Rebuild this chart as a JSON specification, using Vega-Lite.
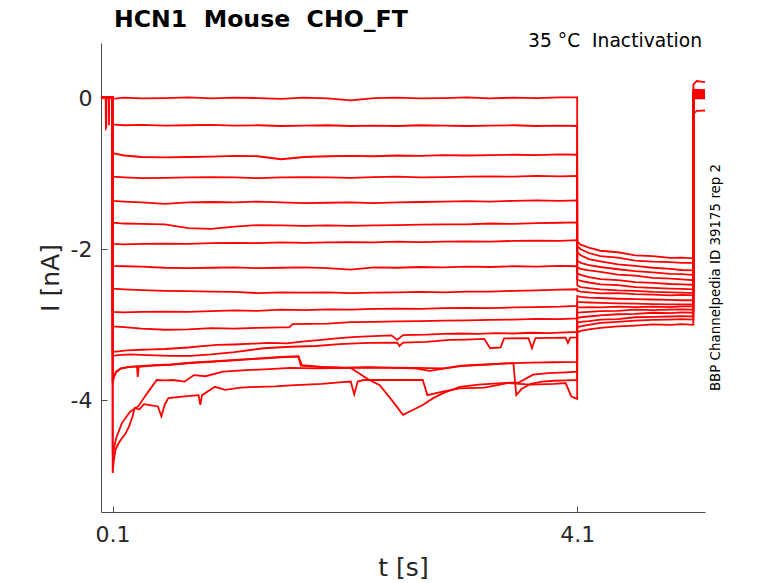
{
  "$schema": "https://vega.github.io/schema/vega-lite/v6.json",
  "width": 604,
  "height": 469,
  "autosize": {"type": "none"},
  "padding": {"left": 101, "top": 43, "right": 73, "bottom": 71},
  "background": "white",
  "config": {
    "view": {"stroke": null},
    "axis": {
      "labelFont": "DejaVu Sans", "titleFont": "DejaVu Sans",
      "labelColor": "#262626", "titleColor": "#262626",
      "domainColor": "#4d4d4d", "tickColor": "#4d4d4d",
      "grid": false, "titleFontWeight": "normal",
      "labelFontSize": 22, "titleFontSize": 25, "tickSize": -6
    }
  },
  "layer": [
    {
      "data": {"values": [
{"s":1,"t":0,"I":0.01},{"s":1,"t":0.04,"I":0.01},{"s":1,"t":0.042,"I":-0.40},{"s":1,"t":0.046,"I":-0.39},{"s":1,"t":0.048,"I":0.01},{"s":1,"t":0.068,"I":0.01},{"s":1,"t":0.069,"I":-0.36},{"s":1,"t":0.071,"I":0.01},{"s":1,"t":0.1,"I":0.01},
{"s":1,"t":0.1005,"I":-0.01},{"s":1,"t":0.2,"I":0.005},{"s":1,"t":0.35,"I":-0.005},{"s":1,"t":0.55,"I":0.0},{"s":1,"t":0.75,"I":0.01},{"s":1,"t":0.95,"I":-0.005},{"s":1,"t":1.15,"I":0.005},{"s":1,"t":1.35,"I":0.0},{"s":1,"t":1.55,"I":-0.01},{"s":1,"t":1.75,"I":0.005},{"s":1,"t":1.95,"I":-0.005},{"s":1,"t":2.15,"I":-0.03},{"s":1,"t":2.35,"I":0.0},{"s":1,"t":2.55,"I":0.005},{"s":1,"t":2.75,"I":-0.005},{"s":1,"t":2.95,"I":0.0},{"s":1,"t":3.15,"I":0.01},{"s":1,"t":3.35,"I":-0.005},{"s":1,"t":3.55,"I":0.005},{"s":1,"t":3.75,"I":0.0},{"s":1,"t":3.95,"I":0.01},{"s":1,"t":4.0995,"I":0.01},
{"s":1,"t":4.1,"I":-1.90},{"s":1,"t":4.13,"I":-1.94},{"s":1,"t":4.2,"I":-1.98},{"s":1,"t":4.3,"I":-2.02},{"s":1,"t":4.45,"I":-2.04},{"s":1,"t":4.6,"I":-2.08},{"s":1,"t":4.75,"I":-2.09},{"s":1,"t":4.9,"I":-2.115},{"s":1,"t":5.0,"I":-2.11},{"s":1,"t":5.0995,"I":-2.12},
{"s":1,"t":5.1,"I":0.18},{"s":1,"t":5.13,"I":0.225},{"s":1,"t":5.2,"I":0.21},

{"s":2,"t":0,"I":0.01},{"s":2,"t":0.1,"I":0.01},
{"s":2,"t":0.1005,"I":-0.35},{"s":2,"t":0.2,"I":-0.36},{"s":2,"t":0.35,"I":-0.355},{"s":2,"t":0.55,"I":-0.365},{"s":2,"t":0.75,"I":-0.36},{"s":2,"t":0.95,"I":-0.355},{"s":2,"t":1.15,"I":-0.365},{"s":2,"t":1.35,"I":-0.36},{"s":2,"t":1.55,"I":-0.37},{"s":2,"t":1.75,"I":-0.365},{"s":2,"t":1.95,"I":-0.36},{"s":2,"t":2.15,"I":-0.37},{"s":2,"t":2.35,"I":-0.365},{"s":2,"t":2.55,"I":-0.37},{"s":2,"t":2.75,"I":-0.36},{"s":2,"t":2.95,"I":-0.365},{"s":2,"t":3.15,"I":-0.37},{"s":2,"t":3.35,"I":-0.365},{"s":2,"t":3.55,"I":-0.36},{"s":2,"t":3.75,"I":-0.37},{"s":2,"t":3.95,"I":-0.365},{"s":2,"t":4.0995,"I":-0.37},
{"s":2,"t":4.1,"I":-1.96},{"s":2,"t":4.13,"I":-2.0},{"s":2,"t":4.2,"I":-2.05},{"s":2,"t":4.3,"I":-2.09},{"s":2,"t":4.45,"I":-2.11},{"s":2,"t":4.6,"I":-2.15},{"s":2,"t":4.75,"I":-2.165},{"s":2,"t":4.9,"I":-2.17},{"s":2,"t":5.0,"I":-2.18},{"s":2,"t":5.0995,"I":-2.18},
{"s":2,"t":5.1,"I":0.11},{"s":2,"t":5.2,"I":0.105},

{"s":3,"t":0,"I":0.01},{"s":3,"t":0.1,"I":0.01},
{"s":3,"t":0.1005,"I":-0.73},{"s":3,"t":0.2,"I":-0.76},{"s":3,"t":0.35,"I":-0.78},{"s":3,"t":0.55,"I":-0.785},{"s":3,"t":0.75,"I":-0.78},{"s":3,"t":0.95,"I":-0.775},{"s":3,"t":1.15,"I":-0.765},{"s":3,"t":1.35,"I":-0.77},{"s":3,"t":1.55,"I":-0.81},{"s":3,"t":1.75,"I":-0.78},{"s":3,"t":1.95,"I":-0.77},{"s":3,"t":2.15,"I":-0.765},{"s":3,"t":2.35,"I":-0.77},{"s":3,"t":2.55,"I":-0.76},{"s":3,"t":2.75,"I":-0.765},{"s":3,"t":2.95,"I":-0.755},{"s":3,"t":3.15,"I":-0.76},{"s":3,"t":3.35,"I":-0.755},{"s":3,"t":3.55,"I":-0.75},{"s":3,"t":3.75,"I":-0.755},{"s":3,"t":3.95,"I":-0.745},{"s":3,"t":4.0995,"I":-0.75},
{"s":3,"t":4.1,"I":-2.04},{"s":3,"t":4.13,"I":-2.08},{"s":3,"t":4.2,"I":-2.13},{"s":3,"t":4.3,"I":-2.16},{"s":3,"t":4.45,"I":-2.2},{"s":3,"t":4.6,"I":-2.22},{"s":3,"t":4.75,"I":-2.245},{"s":3,"t":4.9,"I":-2.26},{"s":3,"t":5.0,"I":-2.275},{"s":3,"t":5.0995,"I":-2.28},
{"s":3,"t":5.1,"I":0.10},{"s":3,"t":5.2,"I":0.095},

{"s":4,"t":0,"I":0.01},{"s":4,"t":0.1,"I":0.01},
{"s":4,"t":0.1005,"I":-1.04},{"s":4,"t":0.2,"I":-1.05},{"s":4,"t":0.35,"I":-1.06},{"s":4,"t":0.55,"I":-1.055},{"s":4,"t":0.75,"I":-1.05},{"s":4,"t":0.95,"I":-1.045},{"s":4,"t":1.15,"I":-1.05},{"s":4,"t":1.35,"I":-1.06},{"s":4,"t":1.55,"I":-1.05},{"s":4,"t":1.75,"I":-1.045},{"s":4,"t":1.95,"I":-1.05},{"s":4,"t":2.15,"I":-1.055},{"s":4,"t":2.35,"I":-1.045},{"s":4,"t":2.55,"I":-1.04},{"s":4,"t":2.75,"I":-1.05},{"s":4,"t":2.95,"I":-1.045},{"s":4,"t":3.15,"I":-1.04},{"s":4,"t":3.35,"I":-1.035},{"s":4,"t":3.55,"I":-1.04},{"s":4,"t":3.75,"I":-1.03},{"s":4,"t":3.95,"I":-1.035},{"s":4,"t":4.0995,"I":-1.03},
{"s":4,"t":4.1,"I":-2.15},{"s":4,"t":4.13,"I":-2.18},{"s":4,"t":4.2,"I":-2.21},{"s":4,"t":4.3,"I":-2.235},{"s":4,"t":4.45,"I":-2.265},{"s":4,"t":4.6,"I":-2.29},{"s":4,"t":4.75,"I":-2.305},{"s":4,"t":4.9,"I":-2.325},{"s":4,"t":5.0,"I":-2.33},{"s":4,"t":5.0995,"I":-2.34},
{"s":4,"t":5.1,"I":0.09},{"s":4,"t":5.2,"I":0.085},

{"s":5,"t":0,"I":0.01},{"s":5,"t":0.1,"I":0.01},
{"s":5,"t":0.1005,"I":-1.36},{"s":5,"t":0.2,"I":-1.37},{"s":5,"t":0.35,"I":-1.38},{"s":5,"t":0.55,"I":-1.40},{"s":5,"t":0.75,"I":-1.38},{"s":5,"t":0.95,"I":-1.375},{"s":5,"t":1.15,"I":-1.38},{"s":5,"t":1.35,"I":-1.37},{"s":5,"t":1.55,"I":-1.38},{"s":5,"t":1.75,"I":-1.39},{"s":5,"t":1.95,"I":-1.385},{"s":5,"t":2.15,"I":-1.38},{"s":5,"t":2.35,"I":-1.39},{"s":5,"t":2.55,"I":-1.38},{"s":5,"t":2.75,"I":-1.375},{"s":5,"t":2.95,"I":-1.37},{"s":5,"t":3.15,"I":-1.365},{"s":5,"t":3.35,"I":-1.37},{"s":5,"t":3.55,"I":-1.36},{"s":5,"t":3.75,"I":-1.355},{"s":5,"t":3.95,"I":-1.36},{"s":5,"t":4.0995,"I":-1.355},
{"s":5,"t":4.1,"I":-2.24},{"s":5,"t":4.13,"I":-2.26},{"s":5,"t":4.2,"I":-2.28},{"s":5,"t":4.3,"I":-2.30},{"s":5,"t":4.45,"I":-2.335},{"s":5,"t":4.6,"I":-2.35},{"s":5,"t":4.75,"I":-2.38},{"s":5,"t":4.9,"I":-2.39},{"s":5,"t":5.0,"I":-2.40},{"s":5,"t":5.0995,"I":-2.41},
{"s":5,"t":5.1,"I":0.08},{"s":5,"t":5.2,"I":0.075},

{"s":6,"t":0,"I":0.01},{"s":6,"t":0.1,"I":0.01},
{"s":6,"t":0.1005,"I":-1.65},{"s":6,"t":0.2,"I":-1.66},{"s":6,"t":0.35,"I":-1.665},{"s":6,"t":0.55,"I":-1.67},{"s":6,"t":0.75,"I":-1.72},{"s":6,"t":0.95,"I":-1.73},{"s":6,"t":1.15,"I":-1.70},{"s":6,"t":1.35,"I":-1.68},{"s":6,"t":1.55,"I":-1.685},{"s":6,"t":1.75,"I":-1.69},{"s":6,"t":1.95,"I":-1.685},{"s":6,"t":2.15,"I":-1.69},{"s":6,"t":2.35,"I":-1.685},{"s":6,"t":2.55,"I":-1.68},{"s":6,"t":2.75,"I":-1.675},{"s":6,"t":2.95,"I":-1.67},{"s":6,"t":3.15,"I":-1.67},{"s":6,"t":3.35,"I":-1.66},{"s":6,"t":3.55,"I":-1.665},{"s":6,"t":3.75,"I":-1.655},{"s":6,"t":3.95,"I":-1.65},{"s":6,"t":4.0995,"I":-1.645},
{"s":6,"t":4.1,"I":-2.32},{"s":6,"t":4.13,"I":-2.34},{"s":6,"t":4.2,"I":-2.37},{"s":6,"t":4.3,"I":-2.395},{"s":6,"t":4.45,"I":-2.41},{"s":6,"t":4.6,"I":-2.435},{"s":6,"t":4.75,"I":-2.445},{"s":6,"t":4.9,"I":-2.46},{"s":6,"t":5.0,"I":-2.465},{"s":6,"t":5.0995,"I":-2.47},
{"s":6,"t":5.1,"I":0.07},{"s":6,"t":5.2,"I":0.065},

{"s":7,"t":0,"I":0.01},{"s":7,"t":0.1,"I":0.01},
{"s":7,"t":0.1005,"I":-1.93},{"s":7,"t":0.2,"I":-1.935},{"s":7,"t":0.35,"I":-1.93},{"s":7,"t":0.55,"I":-1.925},{"s":7,"t":0.75,"I":-1.93},{"s":7,"t":0.95,"I":-1.92},{"s":7,"t":1.15,"I":-1.915},{"s":7,"t":1.35,"I":-1.92},{"s":7,"t":1.55,"I":-1.91},{"s":7,"t":1.75,"I":-1.915},{"s":7,"t":1.95,"I":-1.91},{"s":7,"t":2.15,"I":-1.905},{"s":7,"t":2.35,"I":-1.91},{"s":7,"t":2.55,"I":-1.90},{"s":7,"t":2.75,"I":-1.905},{"s":7,"t":2.95,"I":-1.90},{"s":7,"t":3.15,"I":-1.895},{"s":7,"t":3.35,"I":-1.90},{"s":7,"t":3.55,"I":-1.89},{"s":7,"t":3.75,"I":-1.885},{"s":7,"t":3.95,"I":-1.89},{"s":7,"t":4.0995,"I":-1.88},
{"s":7,"t":4.1,"I":-2.40},{"s":7,"t":4.13,"I":-2.42},{"s":7,"t":4.2,"I":-2.44},{"s":7,"t":4.3,"I":-2.465},{"s":7,"t":4.45,"I":-2.475},{"s":7,"t":4.6,"I":-2.50},{"s":7,"t":4.75,"I":-2.51},{"s":7,"t":4.9,"I":-2.52},{"s":7,"t":5.0,"I":-2.525},{"s":7,"t":5.0995,"I":-2.53},
{"s":7,"t":5.1,"I":0.06},{"s":7,"t":5.2,"I":0.055},

{"s":8,"t":0,"I":0.01},{"s":8,"t":0.1,"I":0.01},
{"s":8,"t":0.1005,"I":-2.22},{"s":8,"t":0.2,"I":-2.225},{"s":8,"t":0.35,"I":-2.23},{"s":8,"t":0.55,"I":-2.245},{"s":8,"t":0.75,"I":-2.25},{"s":8,"t":0.95,"I":-2.245},{"s":8,"t":1.15,"I":-2.24},{"s":8,"t":1.35,"I":-2.25},{"s":8,"t":1.55,"I":-2.245},{"s":8,"t":1.75,"I":-2.24},{"s":8,"t":1.95,"I":-2.25},{"s":8,"t":2.15,"I":-2.27},{"s":8,"t":2.35,"I":-2.24},{"s":8,"t":2.55,"I":-2.245},{"s":8,"t":2.75,"I":-2.235},{"s":8,"t":2.95,"I":-2.24},{"s":8,"t":3.15,"I":-2.23},{"s":8,"t":3.35,"I":-2.235},{"s":8,"t":3.55,"I":-2.225},{"s":8,"t":3.75,"I":-2.23},{"s":8,"t":3.95,"I":-2.22},{"s":8,"t":4.0995,"I":-2.225},
{"s":8,"t":4.1,"I":-2.48},{"s":8,"t":4.13,"I":-2.50},{"s":8,"t":4.2,"I":-2.515},{"s":8,"t":4.3,"I":-2.53},{"s":8,"t":4.45,"I":-2.545},{"s":8,"t":4.6,"I":-2.55},{"s":8,"t":4.75,"I":-2.565},{"s":8,"t":4.9,"I":-2.57},{"s":8,"t":5.0,"I":-2.575},{"s":8,"t":5.0995,"I":-2.58},
{"s":8,"t":5.1,"I":0.06},{"s":8,"t":5.2,"I":0.05},

{"s":9,"t":0,"I":0.01},{"s":9,"t":0.1,"I":0.01},
{"s":9,"t":0.1005,"I":-2.52},{"s":9,"t":0.2,"I":-2.53},{"s":9,"t":0.35,"I":-2.54},{"s":9,"t":0.55,"I":-2.55},{"s":9,"t":0.75,"I":-2.555},{"s":9,"t":0.95,"I":-2.56},{"s":9,"t":1.15,"I":-2.565},{"s":9,"t":1.35,"I":-2.58},{"s":9,"t":1.55,"I":-2.57},{"s":9,"t":1.75,"I":-2.575},{"s":9,"t":1.95,"I":-2.57},{"s":9,"t":2.15,"I":-2.58},{"s":9,"t":2.35,"I":-2.575},{"s":9,"t":2.55,"I":-2.57},{"s":9,"t":2.75,"I":-2.565},{"s":9,"t":2.95,"I":-2.57},{"s":9,"t":3.15,"I":-2.56},{"s":9,"t":3.35,"I":-2.56},{"s":9,"t":3.55,"I":-2.55},{"s":9,"t":3.75,"I":-2.545},{"s":9,"t":3.95,"I":-2.535},{"s":9,"t":4.0995,"I":-2.53},
{"s":9,"t":4.1,"I":-2.55},{"s":9,"t":4.13,"I":-2.56},{"s":9,"t":4.2,"I":-2.57},{"s":9,"t":4.3,"I":-2.585},{"s":9,"t":4.45,"I":-2.58},{"s":9,"t":4.6,"I":-2.595},{"s":9,"t":4.75,"I":-2.60},{"s":9,"t":4.9,"I":-2.61},{"s":9,"t":5.0,"I":-2.605},{"s":9,"t":5.0995,"I":-2.61},
{"s":9,"t":5.1,"I":0.05},{"s":9,"t":5.2,"I":0.045},

{"s":10,"t":0,"I":0.01},{"s":10,"t":0.1,"I":0.01},
{"s":10,"t":0.1005,"I":-2.83},{"s":10,"t":0.2,"I":-2.835},{"s":10,"t":0.35,"I":-2.83},{"s":10,"t":0.55,"I":-2.825},{"s":10,"t":0.75,"I":-2.83},{"s":10,"t":0.95,"I":-2.82},{"s":10,"t":1.15,"I":-2.81},{"s":10,"t":1.35,"I":-2.815},{"s":10,"t":1.55,"I":-2.80},{"s":10,"t":1.75,"I":-2.805},{"s":10,"t":1.95,"I":-2.795},{"s":10,"t":2.15,"I":-2.80},{"s":10,"t":2.35,"I":-2.79},{"s":10,"t":2.55,"I":-2.785},{"s":10,"t":2.75,"I":-2.79},{"s":10,"t":2.95,"I":-2.78},{"s":10,"t":3.15,"I":-2.775},{"s":10,"t":3.35,"I":-2.78},{"s":10,"t":3.55,"I":-2.77},{"s":10,"t":3.75,"I":-2.765},{"s":10,"t":3.95,"I":-2.76},{"s":10,"t":4.0995,"I":-2.75},
{"s":10,"t":4.1,"I":-2.62},{"s":10,"t":4.13,"I":-2.63},{"s":10,"t":4.2,"I":-2.64},{"s":10,"t":4.3,"I":-2.645},{"s":10,"t":4.45,"I":-2.655},{"s":10,"t":4.6,"I":-2.66},{"s":10,"t":4.75,"I":-2.665},{"s":10,"t":4.9,"I":-2.67},{"s":10,"t":5.0,"I":-2.675},{"s":10,"t":5.0995,"I":-2.675},
{"s":10,"t":5.1,"I":0.04},{"s":10,"t":5.2,"I":0.035},

{"s":11,"t":0,"I":0.01},{"s":11,"t":0.1,"I":0.01},
{"s":11,"t":0.1005,"I":-3.02},{"s":11,"t":0.2,"I":-3.03},{"s":11,"t":0.35,"I":-3.05},{"s":11,"t":0.55,"I":-3.065},{"s":11,"t":0.75,"I":-3.06},{"s":11,"t":0.95,"I":-3.045},{"s":11,"t":1.15,"I":-3.05},{"s":11,"t":1.35,"I":-3.04},{"s":11,"t":1.55,"I":-3.035},{"s":11,"t":1.62,"I":-3.035},{"s":11,"t":1.65,"I":-2.99},{"s":11,"t":1.95,"I":-2.985},{"s":11,"t":2.15,"I":-2.965},{"s":11,"t":2.35,"I":-2.96},{"s":11,"t":2.55,"I":-2.955},{"s":11,"t":2.75,"I":-2.95},{"s":11,"t":2.95,"I":-2.945},{"s":11,"t":3.15,"I":-2.94},{"s":11,"t":3.35,"I":-2.935},{"s":11,"t":3.55,"I":-2.93},{"s":11,"t":3.75,"I":-2.92},{"s":11,"t":3.95,"I":-2.925},{"s":11,"t":4.0995,"I":-2.915},
{"s":11,"t":4.1,"I":-2.70},{"s":11,"t":4.13,"I":-2.70},{"s":11,"t":4.2,"I":-2.705},{"s":11,"t":4.3,"I":-2.71},{"s":11,"t":4.45,"I":-2.715},{"s":11,"t":4.6,"I":-2.72},{"s":11,"t":4.75,"I":-2.725},{"s":11,"t":4.9,"I":-2.73},{"s":11,"t":5.0,"I":-2.73},{"s":11,"t":5.0995,"I":-2.73},
{"s":11,"t":5.1,"I":0.04},{"s":11,"t":5.2,"I":0.03},

{"s":12,"t":0,"I":0.01},{"s":12,"t":0.1,"I":0.01},
{"s":12,"t":0.1005,"I":-3.36},{"s":12,"t":0.12,"I":-3.355},{"s":12,"t":0.15,"I":-3.35},{"s":12,"t":0.2,"I":-3.34},{"s":12,"t":0.27,"I":-3.335},{"s":12,"t":0.35,"I":-3.33},{"s":12,"t":0.45,"I":-3.325},{"s":12,"t":0.55,"I":-3.32},{"s":12,"t":0.65,"I":-3.31},{"s":12,"t":0.75,"I":-3.30},{"s":12,"t":0.85,"I":-3.285},{"s":12,"t":1.0,"I":-3.265},{"s":12,"t":1.15,"I":-3.26},{"s":12,"t":1.3,"I":-3.25},{"s":12,"t":1.45,"I":-3.24},{"s":12,"t":1.6,"I":-3.245},{"s":12,"t":1.75,"I":-3.22},{"s":12,"t":1.9,"I":-3.2},{"s":12,"t":2.05,"I":-3.175},{"s":12,"t":2.2,"I":-3.16},{"s":12,"t":2.35,"I":-3.15},{"s":12,"t":2.5,"I":-3.14},{"s":12,"t":2.55,"I":-3.2},{"s":12,"t":2.6,"I":-3.135},{"s":12,"t":2.8,"I":-3.13},{"s":12,"t":2.95,"I":-3.12},{"s":12,"t":3.1,"I":-3.115},{"s":12,"t":3.25,"I":-3.12},{"s":12,"t":3.4,"I":-3.11},{"s":12,"t":3.55,"I":-3.115},{"s":12,"t":3.7,"I":-3.105},{"s":12,"t":3.85,"I":-3.11},{"s":12,"t":4.0,"I":-3.10},{"s":12,"t":4.0995,"I":-3.095},
{"s":12,"t":4.1,"I":-2.77},{"s":12,"t":4.13,"I":-2.77},{"s":12,"t":4.2,"I":-2.765},{"s":12,"t":4.3,"I":-2.77},{"s":12,"t":4.45,"I":-2.76},{"s":12,"t":4.6,"I":-2.765},{"s":12,"t":4.75,"I":-2.76},{"s":12,"t":4.9,"I":-2.765},{"s":12,"t":5.0,"I":-2.755},{"s":12,"t":5.0995,"I":-2.755},
{"s":12,"t":5.1,"I":0.03},{"s":12,"t":5.2,"I":0.025},

{"s":13,"t":0,"I":0.01},{"s":13,"t":0.1,"I":0.01},
{"s":13,"t":0.1005,"I":-3.41},{"s":13,"t":0.15,"I":-3.40},{"s":13,"t":0.25,"I":-3.39},{"s":13,"t":0.4,"I":-3.40},{"s":13,"t":0.6,"I":-3.41},{"s":13,"t":0.77,"I":-3.41},{"s":13,"t":0.95,"I":-3.39},{"s":13,"t":1.15,"I":-3.36},{"s":13,"t":1.4,"I":-3.31},{"s":13,"t":1.63,"I":-3.29},{"s":13,"t":1.85,"I":-3.28},{"s":13,"t":2.05,"I":-3.255},{"s":13,"t":2.3,"I":-3.24},{"s":13,"t":2.55,"I":-3.235},{"s":13,"t":2.57,"I":-3.28},{"s":13,"t":2.6,"I":-3.235},{"s":13,"t":2.8,"I":-3.225},{"s":13,"t":3.0,"I":-3.2},{"s":13,"t":3.15,"I":-3.195},{"s":13,"t":3.3,"I":-3.185},{"s":13,"t":3.35,"I":-3.31},{"s":13,"t":3.44,"I":-3.30},{"s":13,"t":3.47,"I":-3.18},{"s":13,"t":3.68,"I":-3.175},{"s":13,"t":3.71,"I":-3.31},{"s":13,"t":3.74,"I":-3.175},{"s":13,"t":4.0,"I":-3.17},{"s":13,"t":4.02,"I":-3.24},{"s":13,"t":4.04,"I":-3.17},{"s":13,"t":4.0995,"I":-3.165},
{"s":13,"t":4.1,"I":-2.84},{"s":13,"t":4.13,"I":-2.835},{"s":13,"t":4.2,"I":-2.83},{"s":13,"t":4.3,"I":-2.82},{"s":13,"t":4.45,"I":-2.815},{"s":13,"t":4.6,"I":-2.80},{"s":13,"t":4.75,"I":-2.805},{"s":13,"t":4.9,"I":-2.80},{"s":13,"t":5.0,"I":-2.795},{"s":13,"t":5.0995,"I":-2.80},
{"s":13,"t":5.1,"I":0.02},{"s":13,"t":5.2,"I":0.015},

{"s":14,"t":0,"I":0.01},{"s":14,"t":0.1,"I":0.01},
{"s":14,"t":0.1005,"I":-3.77},{"s":14,"t":0.11,"I":-3.70},{"s":14,"t":0.13,"I":-3.63},{"s":14,"t":0.17,"I":-3.58},{"s":14,"t":0.24,"I":-3.56},{"s":14,"t":0.31,"I":-3.55},{"s":14,"t":0.316,"I":-3.69},{"s":14,"t":0.325,"I":-3.555},{"s":14,"t":0.45,"I":-3.54},{"s":14,"t":0.6,"I":-3.53},{"s":14,"t":0.77,"I":-3.505},{"s":14,"t":0.95,"I":-3.49},{"s":14,"t":1.15,"I":-3.47},{"s":14,"t":1.35,"I":-3.45},{"s":14,"t":1.55,"I":-3.43},{"s":14,"t":1.7,"I":-3.42},{"s":14,"t":1.72,"I":-3.54},{"s":14,"t":1.9,"I":-3.56},{"s":14,"t":2.1,"I":-3.57},{"s":14,"t":2.3,"I":-3.565},{"s":14,"t":2.5,"I":-3.57},{"s":14,"t":2.7,"I":-3.575},{"s":14,"t":2.83,"I":-3.61},{"s":14,"t":2.95,"I":-3.58},{"s":14,"t":3.1,"I":-3.545},{"s":14,"t":3.3,"I":-3.53},{"s":14,"t":3.5,"I":-3.51},{"s":14,"t":3.7,"I":-3.50},{"s":14,"t":3.9,"I":-3.495},{"s":14,"t":4.0995,"I":-3.49},
{"s":14,"t":4.1,"I":-2.91},{"s":14,"t":4.13,"I":-2.90},{"s":14,"t":4.2,"I":-2.89},{"s":14,"t":4.3,"I":-2.875},{"s":14,"t":4.45,"I":-2.86},{"s":14,"t":4.6,"I":-2.855},{"s":14,"t":4.75,"I":-2.84},{"s":14,"t":4.9,"I":-2.845},{"s":14,"t":5.0,"I":-2.835},{"s":14,"t":5.0995,"I":-2.84},
{"s":14,"t":5.1,"I":0.02},{"s":14,"t":5.2,"I":0.01},

{"s":15,"t":0,"I":0.01},{"s":15,"t":0.1,"I":0.01},
{"s":15,"t":0.1005,"I":-4.72},{"s":15,"t":0.13,"I":-4.50},{"s":15,"t":0.18,"I":-4.30},{"s":15,"t":0.25,"I":-4.15},{"s":15,"t":0.32,"I":-4.08},{"s":15,"t":0.4,"I":-3.90},{"s":15,"t":0.48,"I":-3.73},{"s":15,"t":0.55,"I":-3.735},{"s":15,"t":0.62,"I":-3.73},{"s":15,"t":0.72,"I":-3.75},{"s":15,"t":0.8,"I":-3.665},{"s":15,"t":0.9,"I":-3.68},{"s":15,"t":1.05,"I":-3.62},{"s":15,"t":1.25,"I":-3.60},{"s":15,"t":1.45,"I":-3.585},{"s":15,"t":1.63,"I":-3.57},{"s":15,"t":1.85,"I":-3.575},{"s":15,"t":2.15,"I":-3.57},{"s":15,"t":2.2,"I":-3.62},{"s":15,"t":2.3,"I":-3.72},{"s":15,"t":2.4,"I":-3.80},{"s":15,"t":2.5,"I":-3.99},{"s":15,"t":2.6,"I":-4.19},{"s":15,"t":2.68,"I":-4.13},{"s":15,"t":2.77,"I":-4.06},{"s":15,"t":2.86,"I":-3.97},{"s":15,"t":2.95,"I":-3.90},{"s":15,"t":3.09,"I":-3.82},{"s":15,"t":3.25,"I":-3.79},{"s":15,"t":3.45,"I":-3.77},{"s":15,"t":3.6,"I":-3.76},{"s":15,"t":3.72,"I":-3.66},{"s":15,"t":3.85,"I":-3.64},{"s":15,"t":4.0,"I":-3.63},{"s":15,"t":4.0995,"I":-3.62},
{"s":15,"t":4.1,"I":-2.97},{"s":15,"t":4.13,"I":-2.96},{"s":15,"t":4.2,"I":-2.95},{"s":15,"t":4.3,"I":-2.93},{"s":15,"t":4.45,"I":-2.925},{"s":15,"t":4.6,"I":-2.90},{"s":15,"t":4.75,"I":-2.895},{"s":15,"t":4.9,"I":-2.89},{"s":15,"t":5.0,"I":-2.885},{"s":15,"t":5.0995,"I":-2.89},
{"s":15,"t":5.1,"I":0.01},{"s":15,"t":5.2,"I":0.005},

{"s":16,"t":0,"I":0.01},{"s":16,"t":0.1,"I":0.01},
{"s":16,"t":0.1005,"I":-4.96},{"s":16,"t":0.11,"I":-4.80},{"s":16,"t":0.125,"I":-4.65},{"s":16,"t":0.15,"I":-4.57},{"s":16,"t":0.18,"I":-4.50},{"s":16,"t":0.21,"I":-4.44},{"s":16,"t":0.24,"I":-4.35},{"s":16,"t":0.27,"I":-4.22},{"s":16,"t":0.29,"I":-4.10},{"s":16,"t":0.33,"I":-4.12},{"s":16,"t":0.37,"I":-4.05},{"s":16,"t":0.41,"I":-4.06},{"s":16,"t":0.49,"I":-4.08},{"s":16,"t":0.52,"I":-4.21},{"s":16,"t":0.55,"I":-4.05},{"s":16,"t":0.58,"I":-3.97},{"s":16,"t":0.7,"I":-3.95},{"s":16,"t":0.84,"I":-3.93},{"s":16,"t":0.855,"I":-4.06},{"s":16,"t":0.87,"I":-3.93},{"s":16,"t":0.98,"I":-3.82},{"s":16,"t":1.07,"I":-3.86},{"s":16,"t":1.2,"I":-3.83},{"s":16,"t":1.35,"I":-3.82},{"s":16,"t":1.5,"I":-3.815},{"s":16,"t":1.63,"I":-3.80},{"s":16,"t":1.9,"I":-3.78},{"s":16,"t":2.05,"I":-3.76},{"s":16,"t":2.15,"I":-3.75},{"s":16,"t":2.18,"I":-3.92},{"s":16,"t":2.21,"I":-3.75},{"s":16,"t":2.26,"I":-3.73},{"s":16,"t":2.5,"I":-3.73},{"s":16,"t":2.77,"I":-3.73},{"s":16,"t":2.81,"I":-3.93},{"s":16,"t":2.95,"I":-3.88},{"s":16,"t":3.09,"I":-3.84},{"s":16,"t":3.3,"I":-3.83},{"s":16,"t":3.5,"I":-3.77},{"s":16,"t":3.7,"I":-3.79},{"s":16,"t":3.9,"I":-3.78},{"s":16,"t":4.0,"I":-3.77},{"s":16,"t":4.05,"I":-3.95},{"s":16,"t":4.0995,"I":-3.98},
{"s":16,"t":4.1,"I":-3.10},{"s":16,"t":4.13,"I":-3.08},{"s":16,"t":4.2,"I":-3.06},{"s":16,"t":4.3,"I":-3.04},{"s":16,"t":4.45,"I":-3.02},{"s":16,"t":4.6,"I":-3.01},{"s":16,"t":4.75,"I":-2.995},{"s":16,"t":4.9,"I":-3.0},{"s":16,"t":5.0,"I":-2.99},{"s":16,"t":5.0995,"I":-3.0},
{"s":16,"t":5.1,"I":0.0},{"s":16,"t":5.2,"I":-0.005},

{"s":17,"t":0,"I":0.01},{"s":17,"t":0.1,"I":0.01},
{"s":17,"t":0.1005,"I":-3.76},{"s":17,"t":0.11,"I":-3.69},{"s":17,"t":0.13,"I":-3.62},{"s":17,"t":0.17,"I":-3.575},{"s":17,"t":0.24,"I":-3.555},{"s":17,"t":0.45,"I":-3.535},{"s":17,"t":0.6,"I":-3.525},{"s":17,"t":0.77,"I":-3.50},{"s":17,"t":0.95,"I":-3.485},{"s":17,"t":1.15,"I":-3.465},{"s":17,"t":1.35,"I":-3.445},{"s":17,"t":1.55,"I":-3.425},{"s":17,"t":1.7,"I":-3.415},{"s":17,"t":1.73,"I":-3.535},{"s":17,"t":1.9,"I":-3.555},{"s":17,"t":2.1,"I":-3.565},{"s":17,"t":2.3,"I":-3.56},{"s":17,"t":2.5,"I":-3.565},{"s":17,"t":2.7,"I":-3.57},{"s":17,"t":2.95,"I":-3.575},{"s":17,"t":3.1,"I":-3.54},{"s":17,"t":3.3,"I":-3.525},{"s":17,"t":3.55,"I":-3.505},{"s":17,"t":3.575,"I":-3.93},{"s":17,"t":3.62,"I":-3.85},{"s":17,"t":3.7,"I":-3.78},{"s":17,"t":3.8,"I":-3.75},{"s":17,"t":3.9,"I":-3.74},{"s":17,"t":4.0,"I":-3.735},{"s":17,"t":4.0995,"I":-3.73},
{"s":17,"t":4.1,"I":-3.03},{"s":17,"t":4.13,"I":-3.02},{"s":17,"t":4.2,"I":-3.00},{"s":17,"t":4.3,"I":-2.975},{"s":17,"t":4.45,"I":-2.96},{"s":17,"t":4.6,"I":-2.945},{"s":17,"t":4.75,"I":-2.935},{"s":17,"t":4.9,"I":-2.93},{"s":17,"t":5.0,"I":-2.925},{"s":17,"t":5.0995,"I":-2.93},
{"s":17,"t":5.1,"I":-0.21},{"s":17,"t":5.13,"I":-0.17},{"s":17,"t":5.2,"I":-0.165}
      ]},
      "mark": {"type": "line", "color": "#ff0000", "strokeWidth": 1.8, "clip": true},
      "encoding": {
        "x": {"field": "t", "type": "quantitative",
              "scale": {"domain": [0, 5.2], "nice": false, "zero": false},
              "axis": {"values": [0.1, 4.1], "title": "t [s]", "labelPadding": 18,
                       "titleY": 63, "titleBaseline": "alphabetic"}},
        "y": {"field": "I", "type": "quantitative",
              "scale": {"domain": [-5.476, 0.728], "nice": false, "zero": false},
              "axis": {"values": [-4, -2, 0], "title": "I [nA]", "labelPadding": 15,
                       "labelExpr": "'' + datum.value",
                       "titleX": -43, "titleBaseline": "alphabetic"}},
        "detail": {"field": "s", "type": "nominal"}
      }
    },
    {
      "data": {"values": [{"label": "HCN1\u00a0\u00a0Mouse\u00a0\u00a0CHO_FT"}]},
      "mark": {"type": "text", "align": "left", "baseline": "alphabetic",
               "fontSize": 23.6, "fontWeight": "bold", "font": "DejaVu Sans", "color": "#000000"},
      "encoding": {
        "x": {"datum": 0.112, "type": "quantitative", "scale": {"domain": [0, 5.2], "nice": false, "zero": false}},
        "y": {"datum": 0.94, "type": "quantitative", "scale": {"domain": [-5.476, 0.728], "nice": false, "zero": false}},
        "text": {"field": "label"}
      }
    },
    {
      "data": {"values": [{"label": "35 °C\u00a0\u00a0Inactivation"}]},
      "mark": {"type": "text", "align": "right", "baseline": "alphabetic",
               "fontSize": 18.7, "font": "DejaVu Sans", "color": "#000000"},
      "encoding": {
        "x": {"datum": 5.174, "type": "quantitative", "scale": {"domain": [0, 5.2], "nice": false, "zero": false}},
        "y": {"datum": 0.675, "type": "quantitative", "scale": {"domain": [-5.476, 0.728], "nice": false, "zero": false}},
        "text": {"field": "label"}
      }
    },
    {
      "data": {"values": [{"label": "BBP Channelpedia ID 39175 rep 2"}]},
      "mark": {"type": "text", "align": "center", "baseline": "alphabetic", "angle": 270,
               "fontSize": 13.4, "font": "DejaVu Sans", "color": "#000000"},
      "encoding": {
        "x": {"datum": 5.329, "type": "quantitative", "scale": {"domain": [0, 5.2], "nice": false, "zero": false}},
        "y": {"datum": -2.374, "type": "quantitative", "scale": {"domain": [-5.476, 0.728], "nice": false, "zero": false}},
        "text": {"field": "label"}
      }
    }
  ]
}
